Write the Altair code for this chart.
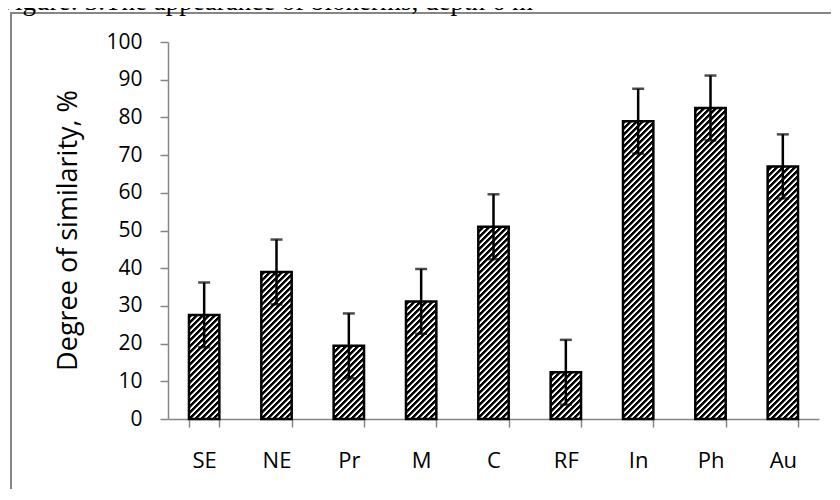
import altair as alt
import pandas as pd

categories = ["SE", "NE", "Pr", "M", "C", "RF", "In", "Ph", "Au"]
values = [27.6, 39.0, 19.4, 31.2, 51.0, 12.4, 79.0, 82.5, 67.0]
errors = [8.6, 8.6, 8.6, 8.6, 8.6, 8.6, 8.6, 8.6, 8.5]
y_ticks = [0, 10, 20, 30, 40, 50, 60, 70, 80, 90, 100]
title_text = ["Figure: 3.The appearance of bioherms, depth 6 m"]
axis_title = "Degree of similarity, %"

W, H = 651, 377
P_INNER = 0.58
STEP = W / len(categories)
BW = STEP * (1 - P_INNER)
GREY = "#868686"

# one stripe period of the hatch, as (length, colour) pieces along x+y
HATCH = [(3.0, "#000000"), (1.0, "#7a7a7a"), (2.0, "#ffffff")]


def hatch(i, v):
    # diagonal "////" stripes, phase-locked to the pixel grid
    period = sum(p[0] for p in HATCH)
    w = BW
    h = v / 100.0 * H
    x0 = STEP * P_INNER / 2 + i * STEP
    y0 = H - h
    L = w + h
    s = L / (w * w + h * h)
    u = ((0.5 - (x0 + y0)) % period) - period
    stops = []
    while u < L:
        for length, col in HATCH:
            a = min(max(u, 0.0), L)
            b = min(max(u + length, 0.0), L)
            if b > a:
                stops += [(a / L, col), (b / L, col)]
            u += length
    return alt.LinearGradient(
        gradient="linear",
        stops=[alt.GradientStop(offset=o, color=col) for o, col in stops],
        x1=0, y1=0, x2=s * w, y2=s * h,
    )


df = pd.DataFrame({
    "cat": categories,
    "val": values,
    "lo": [v - e for v, e in zip(values, errors)],
    "hi": [v + e for v, e in zip(values, errors)],
})

x_axis = alt.Axis(
    title=None, labelAngle=0, labelFont="Open Sans", labelFontSize=22,
    labelColor="black", labelPadding=23, tickSize=8, tickBand="extent",
    tickColor=GREY, tickWidth=1.5, domainColor=GREY, domainWidth=1.5, grid=False,
)
y_axis = alt.Axis(
    values=y_ticks, title=axis_title, titleX=-92, titleY=188,
    titleBaseline="alphabetic", titleFont="Open Sans", titleFontSize=27,
    titleFontWeight="normal", titleColor="black",
    labelFont="Open Sans", labelFontSize=21, labelColor="black", labelPadding=18,
    tickSize=8, tickColor=GREY, tickWidth=1.5, domainColor=GREY, domainWidth=1.5,
    grid=False,
)
x_scale = alt.Scale(paddingInner=P_INNER, paddingOuter=P_INNER / 2)
y_scale = alt.Scale(domain=[0, 100], nice=False)

xenc = alt.X("cat:N", sort=categories, scale=x_scale, axis=x_axis)

base = alt.Chart(df)
layers = []
for i, (c, v) in enumerate(zip(categories, values)):
    layers.append(
        base.transform_filter(alt.datum.cat == c)
        .mark_bar(fill=hatch(i, v), stroke="black", strokeWidth=2.5)
        .encode(x=xenc, y=alt.Y("val:Q", scale=y_scale, axis=y_axis))
    )

err = base.mark_rule(color="black", strokeWidth=2.5).encode(
    x=xenc, y=alt.Y("lo:Q", scale=y_scale, axis=y_axis), y2="hi:Q"
)
cap_hi = base.mark_tick(color="black", thickness=2.5, size=12).encode(
    x=xenc, y=alt.Y("hi:Q", scale=y_scale, axis=y_axis)
)
cap_lo = base.mark_tick(color="black", thickness=2.5, size=12).encode(
    x=xenc, y=alt.Y("lo:Q", scale=y_scale, axis=y_axis)
)

one = pd.DataFrame({"t": title_text})
frame_top = alt.Chart(one).mark_rule(color=GREY, strokeWidth=2).encode(
    x=alt.value(-157), x2=alt.value(W + 30), y=alt.value(-29)
)
frame_left = alt.Chart(one).mark_rule(color=GREY, strokeWidth=2).encode(
    x=alt.value(-157), y=alt.value(-30), y2=alt.value(H + 110)
)
title = alt.Chart(one).mark_text(
    font="Liberation Serif", fontSize=27, align="left", baseline="alphabetic", color="black"
).encode(text="t:N", x=alt.value(-168), y=alt.value(-32))

chart = alt.layer(*layers, err, cap_hi, cap_lo, frame_top, frame_left, title).properties(
    width=W, height=H,
    padding={"left": 160, "top": 34, "right": 12, "bottom": 70},
    autosize=alt.AutoSizeParams(type="none"),
).configure_view(strokeWidth=0)

chart.save("out.html", embed_options={"renderer": "svg", "actions": False})
